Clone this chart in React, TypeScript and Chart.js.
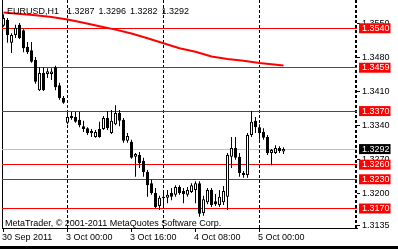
import React, { useEffect, useRef } from 'react';
import { Chart, registerables } from 'chart.js';

Chart.register(...registerables);

// ---- data (EURUSD H1, 30 Sep 2011 08:00 .. 5 Oct 2011 06:00) ----
const opens = [
  1.3545, 1.3557, 1.3510, 1.3526, 1.3547, 1.3536, 1.3502, 1.3495, 1.3475, 1.3413,
  1.3448, 1.3446, 1.3446, 1.3460, 1.3423, 1.3397, 1.3346, 1.3360, 1.3358, 1.3352,
  1.3339, 1.3335, 1.3329, 1.3317, 1.3333, 1.3333, 1.3356, 1.3325, 1.3343, 1.3366,
  1.3352, 1.3309, 1.3307, 1.3276, 1.3280, 1.3268, 1.3245, 1.3222, 1.3202, 1.3175,
  1.3194, 1.3192, 1.3202, 1.3198, 1.3214, 1.3206, 1.3198, 1.3204, 1.3208, 1.3222,
  1.3161, 1.3183, 1.3208, 1.3185, 1.3177, 1.3183, 1.3194, 1.3276, 1.3294, 1.3276,
  1.3243, 1.3239, 1.3321, 1.3350, 1.3337, 1.3327, 1.3317, 1.3284, 1.3284, 1.3294,
  1.3287,
];
const highs = [
  1.3569, 1.3561, 1.3530, 1.3547, 1.3551, 1.3538, 1.3512, 1.3512, 1.3481, 1.3460,
  1.3460, 1.3458, 1.3458, 1.3463, 1.3428, 1.3401, 1.3366, 1.3368, 1.3368, 1.3368,
  1.3350, 1.3337, 1.3333, 1.3331, 1.3348, 1.3360, 1.3370, 1.3372, 1.3382, 1.3372,
  1.3356, 1.3325, 1.3311, 1.3284, 1.3286, 1.3274, 1.3249, 1.3229, 1.3212, 1.3196,
  1.3202, 1.3208, 1.3212, 1.3218, 1.3218, 1.3212, 1.3214, 1.3222, 1.3226, 1.3226,
  1.3196, 1.3212, 1.3212, 1.3200, 1.3208, 1.3216, 1.3284, 1.3317, 1.3317, 1.3284,
  1.3247, 1.3325, 1.3370, 1.3358, 1.3343, 1.3335, 1.3321, 1.3292, 1.3300, 1.3298,
  1.3296,
];
const lows = [
  1.3543, 1.3510, 1.3489, 1.3520, 1.3518, 1.3491, 1.3487, 1.3469, 1.3426, 1.3411,
  1.3411, 1.3438, 1.3434, 1.3413, 1.3393, 1.3385, 1.3343, 1.3352, 1.3346, 1.3337,
  1.3327, 1.3321, 1.3317, 1.3315, 1.3315, 1.3331, 1.3331, 1.3323, 1.3341, 1.3339,
  1.3305, 1.3305, 1.3272, 1.3235, 1.3253, 1.3235, 1.3194, 1.3198, 1.3171, 1.3167,
  1.3173, 1.3181, 1.3187, 1.3194, 1.3198, 1.3181, 1.3194, 1.3202, 1.3181, 1.3153,
  1.3155, 1.3179, 1.3173, 1.3175, 1.3173, 1.3177, 1.3167, 1.3253, 1.3270, 1.3235,
  1.3233, 1.3233, 1.3317, 1.3325, 1.3311, 1.3311, 1.3280, 1.3259, 1.3282, 1.3284,
  1.3282,
];
const closes = [
  1.3561, 1.3526, 1.3526, 1.3541, 1.3520, 1.3499, 1.3491, 1.3471, 1.3430, 1.3448,
  1.3413, 1.3452, 1.3451, 1.3419, 1.3397, 1.3387, 1.3358, 1.3356, 1.3348, 1.3341,
  1.3333, 1.3325, 1.3325, 1.3327, 1.3317, 1.3356, 1.3335, 1.3350, 1.3366, 1.3350,
  1.3309, 1.3319, 1.3274, 1.3282, 1.3263, 1.3245, 1.3218, 1.3202, 1.3173, 1.3192,
  1.3191, 1.3198, 1.3194, 1.3214, 1.3202, 1.3200, 1.3208, 1.3218, 1.3222, 1.3159,
  1.3189, 1.3208, 1.3177, 1.3179, 1.3194, 1.3206, 1.3280, 1.3294, 1.3274, 1.3243,
  1.3239, 1.3321, 1.3348, 1.3337, 1.3325, 1.3315, 1.3284, 1.3290, 1.3294, 1.3288,
  1.3292,
];

// moving average, read at these bar indexes
const maIndex = [0, 8, 12, 16, 20, 24, 28, 32, 36, 40, 44, 48, 52, 56, 60, 64, 70];
const maValues = [
  1.35723, 1.35666, 1.35631, 1.35580, 1.35514, 1.35440, 1.35372, 1.35292, 1.35194,
  1.35092, 1.34991, 1.34917, 1.34820, 1.34769, 1.34734, 1.34687, 1.34636,
];

const xTickIndex = [0, 16, 32, 48, 64];
const xTickLabels = ['30 Sep 2011', '3 Oct 00:00', '3 Oct 16:00', '4 Oct 08:00', '5 Oct 00:00'];
const separatorIndex = [16, 40, 64];

const priceTicks = [1.3550, 1.3480, 1.3410, 1.3340, 1.3270, 1.3200, 1.3135];
const levelLines = [1.3540, 1.3459, 1.3370, 1.3260, 1.3230, 1.3170];
const bidPrice = 1.3292;

const symbolName = 'EURUSD,H1';
const copyright = 'MetaTrader, \u00A9 2001-2011 MetaQuotes Software Corp.';

const FONT = '"Liberation Sans", Arial, sans-serif';
const CLEAR = 'rgba(0,0,0,0)';

export default function App() {
  const ref = useRef<HTMLCanvasElement>(null);

  useEffect(() => {
    const canvas = ref.current;
    if (!canvas) return;
    const xMin = -0.375;
    const xMax = 88.375;
    const rightEdge = 88.125;
    // unique grid/tick positions; the two border lines go last so that no
    // two consecutive ticks are closer than a bar spacing
    const inner = Array.from(new Set([...xTickIndex, ...separatorIndex])).sort((a, b) => a - b);
    const xGridValues = [...inner, rightEdge, xMin];
    const yTickValues = [...priceTicks, bidPrice, ...levelLines];

    const bodyData = opens.map((o, i) => ({ x: i, y: [o, closes[i]] }));
    const wickData = highs.map((h, i) => ({ x: i, y: [lows[i], h] }));
    const maData = maIndex.map((x, k) => ({ x, y: maValues[k] }));

    const kind = (v: number) =>
      levelLines.includes(v) ? 'level' : v === bidPrice ? 'bid' : 'tick';
    const tv = (ctx: any) => (ctx && ctx.tick ? ctx.tick.value : null);

    const chart = new Chart(canvas, {
      type: 'bar',
      data: {
        datasets: [
          {
            type: 'line',
            data: maData,
            borderColor: '#ff0000',
            borderWidth: 2,
            pointRadius: 0,
            tension: 0,
            fill: false,
            order: 0,
          } as any,
          {
            data: bodyData,
            backgroundColor: (ctx: any) =>
              closes[ctx.dataIndex] >= opens[ctx.dataIndex] ? '#ffffff' : '#000000',
            borderColor: '#000000',
            borderWidth: 1,
            borderSkipped: false,
            grouped: false,
            barPercentage: 1,
            categoryPercentage: 1,
            maxBarThickness: 3,
            inflateAmount: 0,
            order: 1,
          } as any,
          {
            data: wickData,
            backgroundColor: '#000000',
            borderWidth: 0,
            grouped: false,
            barPercentage: 1,
            categoryPercentage: 1,
            maxBarThickness: 1,
            inflateAmount: 0,
            order: 2,
          } as any,
        ],
      },
      options: {
        responsive: false,
        maintainAspectRatio: false,
        devicePixelRatio: 1,
        animation: false,
        events: [],
        layout: { padding: { left: 2, right: 0, top: 0, bottom: 0 } },
        plugins: { legend: { display: false }, tooltip: { enabled: false }, title: { display: false } },
        scales: {
          x: {
            type: 'linear',
            min: xMin,
            max: xMax,
            offset: false,
            afterBuildTicks: (s: any) => {
              s.ticks = xGridValues.map((v) => ({ value: v }));
            },
            afterFit: (s: any) => {
              s.height = 18;
              s.paddingLeft = 0;
              s.paddingRight = 0;
            },
            ticks: {
              autoSkip: false,
              maxRotation: 0,
              minRotation: 0,
              align: 'start',
              labelOffset: -1.5,
              padding: 0,
              color: '#000000',
              font: { family: FONT, size: 9 },
              callback: (v: any) => {
                const k = xTickIndex.indexOf(v);
                return k >= 0 ? xTickLabels[k] : '';
              },
            },
            grid: {
              offset: false,
              drawTicks: true,
              tickLength: 4,
              tickWidth: 1,
              color: (ctx: any) => {
                const v = tv(ctx);
                return v === xMin || v === rightEdge || separatorIndex.includes(v) ? '#000000' : CLEAR;
              },
              lineWidth: (ctx: any) => (tv(ctx) === rightEdge ? 2 : 1),
              tickColor: (ctx: any) => (xTickIndex.includes(tv(ctx)) ? '#000000' : CLEAR),
            },
            border: {
              display: true,
              color: '#000000',
              width: 1,
              dash: (ctx: any) => {
                const v = tv(ctx);
                return separatorIndex.includes(v) || v === rightEdge ? [3, 2] : [];
              },
            },
          } as any,
          y: {
            type: 'linear',
            position: 'right',
            min: 1.3130,
            max: 1.3598,
            afterBuildTicks: (s: any) => {
              s.ticks = yTickValues.map((v) => ({ value: v }));
            },
            afterFit: (s: any) => {
              s.width = 41;
              s.paddingTop = 0;
              s.paddingBottom = 0;
            },
            ticks: {
              autoSkip: false,
              padding: 2,
              font: { family: FONT, size: 9, lineHeight: '10px' },
              callback: (v: any) => Number(v).toFixed(4),
              color: (ctx: any) => (kind(tv(ctx)) === 'tick' ? '#000000' : '#ffffff'),
              showLabelBackdrop: (ctx: any) => kind(tv(ctx)) !== 'tick',
              backdropColor: (ctx: any) => (kind(tv(ctx)) === 'level' ? '#ff0000' : '#000000'),
              backdropPadding: { top: 0, bottom: 0, left: 3, right: 1 },
            },
            grid: {
              drawTicks: true,
              tickLength: 3,
              tickWidth: 1,
              lineWidth: 1,
              color: (ctx: any) => {
                const k = kind(tv(ctx));
                return k === 'level' ? '#ff0000' : k === 'bid' ? '#c0c0c0' : CLEAR;
              },
              tickColor: (ctx: any) => (kind(tv(ctx)) === 'tick' ? '#000000' : CLEAR),
            },
            border: { display: false },
          } as any,
        },
      },
    });
    return () => chart.destroy();
  }, []);

  const last = opens.length - 1;
  const header = `${symbolName}  ${opens[last].toFixed(4)} ${highs[last].toFixed(4)} ${lows[last].toFixed(4)} ${closes[last].toFixed(4)}`;

  const textStyle: React.CSSProperties = {
    position: 'absolute',
    font: `9px ${FONT}`,
    lineHeight: '9px',
    whiteSpace: 'pre',
    color: '#000',
  };

  return (
    <div
      style={{
        position: 'fixed',
        left: 0,
        top: 0,
        width: 398,
        height: 249,
        background: '#ffffff',
        overflow: 'hidden',
      }}
    >
      <canvas ref={ref} width={398} height={246} style={{ display: 'block', width: 398, height: 246 }} />
      <div style={{ position: 'absolute', left: 0, top: 246, width: 398, height: 3, background: '#000' }} />
      <div style={{ ...textStyle, left: 7, top: 7, wordSpacing: '1.5px' }}>{header}</div>
      <div style={{ ...textStyle, left: 5, top: 219 }}>{copyright}</div>
    </div>
  );
}
